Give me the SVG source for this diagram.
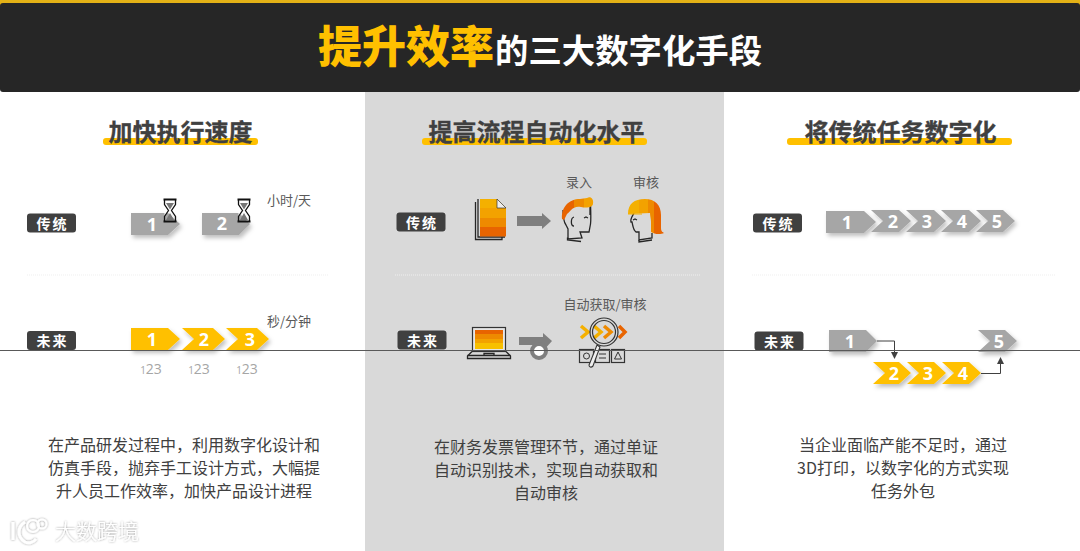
<svg xmlns="http://www.w3.org/2000/svg" width="1080" height="551" viewBox="0 0 1080 551">
<style>
text{font-family:"Noto Sans CJK SC","Noto Sans",sans-serif}
.h{font-size:24px;font-weight:700;fill:#404040;text-anchor:middle;stroke:#404040;stroke-width:.3px}
.bar{fill:#ffc000}
.b{font-size:16px;fill:#404040;text-anchor:middle}
.l{font-size:13px;fill:#595959}
.lc{font-size:13px;fill:#595959;text-anchor:middle}
.tag{fill:#404040}
.tt{font-size:14px;font-weight:700;fill:#fff;text-anchor:middle;letter-spacing:2px}
.g{fill:#a6a6a6}
.y{fill:#ffc000}
.n{font-family:"Open Sans",sans-serif;font-size:18px;font-weight:700;fill:#fff;text-anchor:middle}
.s{font-size:14px;fill:#a6a6a6;font-family:"Open Sans",sans-serif;text-anchor:middle}
.sep{stroke:#efefef;stroke-width:1;stroke-dasharray:1 1}
.ln{fill:none;stroke:#262626;stroke-width:1.3}
.ow{fill:none;stroke:#404040;stroke-width:1}
</style>
<defs>
<filter id="sh" x="-20%" y="-20%" width="150%" height="160%"><feDropShadow dx="2" dy="3" stdDeviation="2" flood-color="#000" flood-opacity=".25"/></filter>
<filter id="wm" x="-20%" y="-20%" width="140%" height="140%"><feDropShadow dx="0" dy="0" stdDeviation="1.2" flood-color="#000" flood-opacity=".45"/></filter>
<linearGradient id="bands" x1="0" y1="0" x2="0" y2="1">
<stop offset="0" stop-color="#f4b000"/><stop offset=".25" stop-color="#f4b000"/><stop offset=".25" stop-color="#f3a200"/><stop offset=".5" stop-color="#f3a200"/><stop offset=".5" stop-color="#ee8a00"/><stop offset=".75" stop-color="#ee8a00"/><stop offset=".75" stop-color="#e86400"/><stop offset="1" stop-color="#e86400"/>
</linearGradient>
<linearGradient id="bandsR" x1="0" y1="0" x2="0" y2="1">
<stop offset="0" stop-color="#e86400"/><stop offset=".2" stop-color="#e86400"/><stop offset=".2" stop-color="#ee8a00"/><stop offset=".45" stop-color="#ee8a00"/><stop offset=".45" stop-color="#f3a200"/><stop offset=".7" stop-color="#f3a200"/><stop offset=".7" stop-color="#f8c000"/><stop offset="1" stop-color="#f8c000"/>
</linearGradient>
<linearGradient id="hairH" x1="0" y1="0" x2="1" y2="0">
<stop offset="0" stop-color="#f4b000"/><stop offset=".3" stop-color="#f4b000"/><stop offset=".3" stop-color="#f3a200"/><stop offset=".55" stop-color="#f3a200"/><stop offset=".55" stop-color="#ee8a00"/><stop offset=".72" stop-color="#ee8a00"/><stop offset=".72" stop-color="#e86400"/><stop offset="1" stop-color="#e86400"/>
</linearGradient>
<linearGradient id="hairM" x1="0" y1="0" x2="1" y2="0">
<stop offset="0" stop-color="#e86400"/><stop offset=".4" stop-color="#e86400"/><stop offset=".4" stop-color="#ee8a00"/><stop offset=".7" stop-color="#ee8a00"/><stop offset=".7" stop-color="#f3a200"/><stop offset="1" stop-color="#f3a200"/>
</linearGradient>
</defs>

<rect width="1080" height="551" fill="#fff"/>
<rect x="365" y="92" width="359" height="459" fill="#d9d9d9"/>

<g id="header">
<rect width="1080" height="6" fill="#e3b116"/>
<rect y="3" width="1080" height="89" rx="3" fill="#262626"/>
<text x="318" y="63" font-size="44" font-weight="900" fill="#ffc000">提升效率</text>
<text x="495" y="63" font-size="33.4" font-weight="700" fill="#fff">的三大数字化手段</text>
</g>

<g id="col1-head"><rect class="bar" x="103" y="138" width="155" height="7" rx="3"/><text class="h" x="180.500" y="141">加快执行速度</text></g>
<g id="col2-head"><rect class="bar" x="422" y="138" width="225" height="7" rx="3"/><text class="h" x="536.500" y="141">提高流程自动化水平</text></g>
<g id="col3-head"><rect class="bar" x="787" y="138" width="225" height="7" rx="3"/><text class="h" x="900.500" y="141">将传统任务数字化</text></g>

<line class="sep" x1="27" y1="275" x2="328" y2="275"/>
<line class="sep" x1="395" y1="275" x2="700" y2="275"/>
<line class="sep" x1="752" y1="275" x2="1055" y2="275"/>

<g id="tag-1a"><rect class="tag" x="27" y="213.500" width="49" height="19" rx="3"/><text class="tt" x="52.500" y="228.500">传统</text></g>
<g id="tag-1b"><rect class="tag" x="27" y="331" width="49" height="19" rx="3"/><text class="tt" x="52.500" y="346">未来</text></g>
<g id="tag-2a"><rect class="tag" x="396.500" y="212.500" width="49" height="19" rx="3"/><text class="tt" x="422" y="227.500">传统</text></g>
<g id="tag-2b"><rect class="tag" x="397.500" y="330.500" width="49" height="19" rx="3"/><text class="tt" x="423" y="345.500">未来</text></g>
<g id="tag-3a"><rect class="tag" x="753" y="213.500" width="49" height="19" rx="3"/><text class="tt" x="778.500" y="228.500">传统</text></g>
<g id="tag-3b"><rect class="tag" x="754.500" y="331.500" width="49" height="19" rx="3"/><text class="tt" x="780" y="346.500">未来</text></g>

<g id="c1-t1"><polygon class="g" filter="url(#sh)" points="131,213 168,213 180,224 168,235 131,235"/><text class="n" x="152" y="231">1</text></g>
<g id="c1-t2"><polygon class="g" filter="url(#sh)" points="202,213 239,213 250,224 239,235 202,235"/><text class="n" x="222" y="230">2</text></g>
<g id="hourglass-1"><path d="M163.500 199.500H176.500M163.500 221.500H176.500" stroke="#111" stroke-width="2" fill="none"/><path d="M164.500 200V204.500L168.500 210.500L164.500 216.500V221M175.500 200V204.500L171.500 210.500L175.500 216.500V221" fill="#fff" stroke="#111" stroke-width="1.300"/><path d="M166 203H174L170 209.500ZM170 213L174 220H166Z" fill="#777"/></g>
<g id="hourglass-2"><path d="M237.500 199.500H250.500M237.500 221.500H250.500" stroke="#111" stroke-width="2" fill="none"/><path d="M238.500 200V204.500L242.500 210.500L238.500 216.500V221M249.500 200V204.500L245.500 210.500L249.500 216.500V221" fill="#fff" stroke="#111" stroke-width="1.300"/><path d="M240 203H248L244 209.500ZM244 213L248 220H240Z" fill="#777"/></g>
<text class="l" x="267" y="205">小时/天</text>

<g id="c1-f1"><polygon class="y" filter="url(#sh)" points="131,328 168,328 180,339 168,350 131,350"/><text class="n" x="152" y="346">1</text></g>
<g id="c1-f2"><polygon class="y" filter="url(#sh)" points="182,328 213,328 225,339 213,350 182,350 194,339"/><text class="n" x="204" y="346">2</text></g>
<g id="c1-f3"><polygon class="y" filter="url(#sh)" points="226,328 257,328 269,339 257,350 226,350 238,339"/><text class="n" x="250" y="346">3</text></g>
<text class="l" x="267" y="326">秒/分钟</text>
<text class="s" x="151" y="374"><tspan font-size="10">1</tspan>23</text>
<text class="s" x="199" y="374"><tspan font-size="10">1</tspan>23</text>
<text class="s" x="247" y="374"><tspan font-size="10">1</tspan>23</text>

<g id="doc">
<path class="ln" d="M475.500 202V239.500H502V237"/><path class="ln" d="M478 199V237H505"/>
<path d="M480 199H497L506 208V236.500H480Z" fill="url(#bands)"/>
<path d="M497 199L506 208H497Z" fill="#eee" stroke="#333" stroke-width=".7"/>
</g>
<polygon id="arrow-1" points="517,216 542,216 542,213 551,221 542,229 542,226 517,226" fill="#7f7f7f"/>
<text class="lc" x="579" y="187">录入</text>
<text class="lc" x="646" y="187">审核</text>

<g id="head-man">
<path class="ln" d="M590 215V200H591V203L590.500 203M590.500 204C591 216 591 220 590.500 224L589 232H580L582 238L568 239V229L566 225C563 221 563 215 563 210" fill="none"/>
<path class="ln" d="M567.500 237.500L567.500 240L581 241.500"/>
<path class="ln" d="M574 217C570.500 218 570.500 226 574 226M584 218L586 217L588 218" stroke-width="1"/>
<path d="M562 219C561 207 569 199 580 199L587 198C590 196 594 198 593 204C592 208 586 208 581 207C573 205 570 212 567 214L564 220Z" fill="url(#hairM)"/>
</g>
<g id="head-woman">
<path class="ln" d="M634 213C632 217 630 219 631 222H632C633 226 633 230 636 232H639V240L652 238V233"/>
<path class="ln" d="M639 240L639 242L652 240"/>
<path class="ln" d="M633 220L635 219L637 220" stroke-width="1"/>
<path d="M628 214C628 204 634 199 645 199C655 199 661 205 661 215V228C661 232 663 232 664 233C660 235 654 234 651 232V222C651 219 650 216 650 213Z" fill="url(#hairH)"/>
<path d="M628 214H642" stroke="#f4b000" stroke-width="1"/>
</g>

<g id="laptop">
<rect x="472.500" y="327.500" width="33" height="24" fill="#e6e6e6" stroke="#333" stroke-width="1.200"/>
<rect x="475" y="330" width="28" height="19" fill="url(#bandsR)"/>
<path class="ln" d="M472 351.500L467.500 356V358.500H510.500V356L506 351.500" stroke-width="1.100"/>
<path class="ln" d="M467.500 355.500H510.500M484 355.500V353.500H494V355.500" stroke-width="1"/>
</g>
<polygon id="arrow-2" points="519,337 543,337 543,333 552,341 543,351 543,345 519,345" fill="#7f7f7f"/>
<circle id="circle-2" cx="539" cy="351" r="7" fill="#fff" stroke="#7f7f7f" stroke-width="4"/>
<text class="lc" x="605" y="309">自动获取/审核</text>

<g id="magnifier">
<path d="M581 326L588 332L581 338M594 326L601 332L594 338" fill="none" stroke="#f4b000" stroke-width="3.500"/>
<path d="M604 326L611 332L604 338" fill="none" stroke="#ee8a00" stroke-width="3.500"/>
<path d="M619 326L625 332L619 338" fill="none" stroke="#e86400" stroke-width="3.500"/>
<rect x="579.500" y="349.500" width="14" height="13" fill="none" stroke="#333" stroke-width="1.200"/>
<rect x="595.500" y="349.500" width="14" height="13" fill="none" stroke="#333" stroke-width="1.200"/>
<rect x="611.500" y="349.500" width="13" height="13" fill="none" stroke="#333" stroke-width="1.200"/>
<circle cx="586.500" cy="356" r="3" fill="none" stroke="#333"/>
<path d="M599 354H606M599 358H606" stroke="#333"/>
<path d="M618 352L621.500 359H614.500Z" fill="none" stroke="#333"/>
<circle cx="604" cy="332" r="14" fill="none" stroke="#333" stroke-width="1.200"/>
<circle cx="604" cy="332" r="11.500" fill="none" stroke="#333" stroke-width="1.200"/>
<path d="M597 345L600 347L593 366C591 368 589 367 589 365Z" fill="#eee" stroke="#333" stroke-width="1.100"/>
</g>

<g id="c3-t1"><polygon class="g" filter="url(#sh)" points="826,211 864,211 876,222 864,233 826,233"/><text class="n" x="847" y="229">1</text></g>
<g id="c3-t2"><polygon class="g" filter="url(#sh)" points="871,210 899,210 911,221 899,232 871,232 883,221"/><text class="n" x="893" y="228">2</text></g>
<g id="c3-t3"><polygon class="g" filter="url(#sh)" points="906,210 934,210 946,221 934,232 906,232 918,221"/><text class="n" x="927" y="228">3</text></g>
<g id="c3-t4"><polygon class="g" filter="url(#sh)" points="941,210 969,210 981,221 969,232 941,232 953,221"/><text class="n" x="962" y="228">4</text></g>
<g id="c3-t5"><polygon class="g" filter="url(#sh)" points="976,210 1003,210 1015,221 1003,232 976,232 988,221"/><text class="n" x="997" y="228">5</text></g>

<g id="c3-f1"><polygon class="g" filter="url(#sh)" points="829,330 866,330 877,341 866,352 829,352"/><text class="n" x="850" y="348">1</text></g>
<g id="c3-f5"><polygon class="g" filter="url(#sh)" points="978,330 1005,330 1017,341 1005,352 978,352 990,341"/><text class="n" x="999" y="348">5</text></g>
<g id="c3-f2"><polygon class="y" filter="url(#sh)" points="873,362 899,362 911,373 899,384 873,384 885,373"/><text class="n" x="894" y="380">2</text></g>
<g id="c3-f3"><polygon class="y" filter="url(#sh)" points="907,362 934,362 946,373 934,384 907,384 919,373"/><text class="n" x="928" y="380">3</text></g>
<g id="c3-f4"><polygon class="y" filter="url(#sh)" points="942,362 969,362 981,373 969,384 942,384 954,373"/><text class="n" x="963" y="380">4</text></g>

<g id="connectors">
<path class="ow" d="M877 341H894.500V353"/><polygon points="891,352 898,352 894.500,359" fill="#404040"/>
<path class="ow" d="M981 373.500H1000.500V363"/><polygon points="997,364 1004,364 1000.500,357" fill="#404040"/>
</g>

<line id="rule" x1="0" y1="350.500" x2="1080" y2="350.500" stroke="#595959" stroke-width="1"/>

<g id="copy-1"><text class="b" x="184" y="451">在产品研发过程中，利用数字化设计和</text><text class="b" x="184" y="474">仿真手段，抛弃手工设计方式，大幅提</text><text class="b" x="184" y="497">升人员工作效率，加快产品设计进程</text></g>
<g id="copy-2"><text class="b" x="546" y="453">在财务发票管理环节，通过单证</text><text class="b" x="546" y="476">自动识别技术，实现自动获取和</text><text class="b" x="546" y="499">自动审核</text></g>
<g id="copy-3"><text class="b" x="903" y="451">当企业面临产能不足时，通过</text><text class="b" x="903" y="474">3D打印，以数字化的方式实现</text><text class="b" x="903" y="497">任务外包</text></g>

<g id="watermark" filter="url(#wm)">
<path d="M13 522V540M25 522C17 527 17 537 25 542C29 544 34 542 36 539" fill="none" stroke="#fff" stroke-width="3"/>
<circle cx="33" cy="526" r="6" fill="none" stroke="#fff" stroke-width="2"/>
<circle cx="42" cy="524" r="4.500" fill="none" stroke="#fff" stroke-width="2"/>
<text x="55" y="539" font-size="21" font-weight="300" fill="#fff">大数跨境</text>
</g>
</svg>
